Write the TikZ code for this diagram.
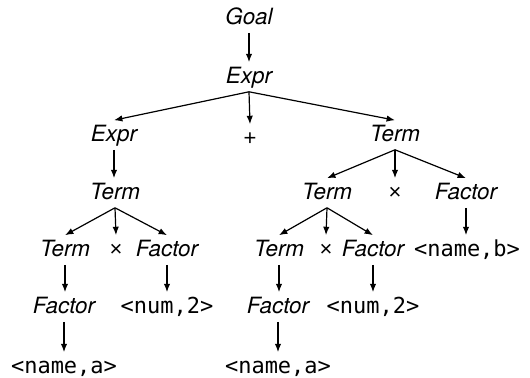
\documentclass[tikz,border=0pt]{standalone}
\usepackage{fontspec}
\setmainfont{TeX Gyre Heros}
\setmonofont{DejaVu Sans Mono}
\newfontfamily\opfont{Liberation Sans}
\usetikzlibrary{arrows.meta}
\tikzset{
  sym/.style={text height=9pt, text depth=2pt, inner sep=1.7pt,
              font=\fontsize{11}{13}\selectfont},
  nt/.style={sym, font=\fontsize{11.2}{13}\selectfont\itshape},
  tok/.style={sym, font=\fontsize{11}{13}\selectfont\ttfamily},
  op/.style={sym, font=\fontsize{11}{13}\selectfont\opfont},
  edge/.style={-{Latex[length=4.2pt, width=3.2pt]}, line width=0.6pt}
}
\begin{document}
\begin{tikzpicture}[x=0.5pt, y=-0.5pt]
  \useasboundingbox (0,0) rectangle (530,378);
  % root
  \node[nt] (goal) at (249,18)  {Goal};
  \node[nt] (expr) at (249,77)  {Expr};
  % level 2
  \node[nt] (exprL) at (114,135) {Expr};
  \node[op] (plus)  at (250,139) {+};
  \node[nt] (termR) at (395,135) {Term};
  % level 3
  \node[nt] (termL)  at (115,193) {Term};
  \node[nt] (termM)  at (327,193) {Term};
  \node[op] (timesR) at (395,193) {×};
  \node[nt] (factR)  at (466,193) {Factor};
  % level 4
  \node[nt]  (termLL) at (65,250)  {Term};
  \node[op]  (timesL) at (116,250) {×};
  \node[nt]  (factL)  at (167,250) {Factor};
  \node[nt]  (termMM) at (279,250) {Term};
  \node[op]  (timesM) at (326,250) {×};
  \node[nt]  (factM)  at (373,250) {Factor};
  \node[tok] (nameb)  at (467,250) {<name,b>};
  % level 5
  \node[nt]  (factLL) at (64,307)  {Factor};
  \node[tok] (numL)   at (167,307) {<num,2>};
  \node[nt]  (factMM) at (278,307) {Factor};
  \node[tok] (numM)   at (373,307) {<num,2>};
  % leaves
  \node[tok] (nameaL) at (64,367)  {<name,a>};
  \node[tok] (nameaM) at (278,367) {<name,a>};

  \draw[edge] (goal) -- (expr);
  \draw[edge] (expr.south) -- (exprL.north);
  \draw[edge] (expr.south) -- (plus.north);
  \draw[edge] (expr.south) -- (termR.north);
  \draw[edge] (exprL.south) -- (termL.north -| exprL.south);
  \draw[edge] (termR.south) -- (termM.north);
  \draw[edge] (termR.south) -- (timesR.north);
  \draw[edge] (termR.south) -- (factR.north);
  \draw[edge] (termL.south) -- (termLL.north);
  \draw[edge] (termL.south) -- (timesL.north);
  \draw[edge] (termL.south) -- (factL.north);
  \draw[edge] (termM.south) -- (termMM.north);
  \draw[edge] (termM.south) -- (timesM.north);
  \draw[edge] (termM.south) -- (factM.north);
  \draw[edge] (factR.south) -- (nameb.north -| factR.south);
  \draw[edge] (termLL.south) -- (factLL.north -| termLL.south);
  \draw[edge] (factL) -- (numL);
  \draw[edge] (termMM.south) -- (factMM.north -| termMM.south);
  \draw[edge] (factM) -- (numM);
  \draw[edge] (factLL) -- (nameaL);
  \draw[edge] (factMM) -- (nameaM);
\end{tikzpicture}
\end{document}
